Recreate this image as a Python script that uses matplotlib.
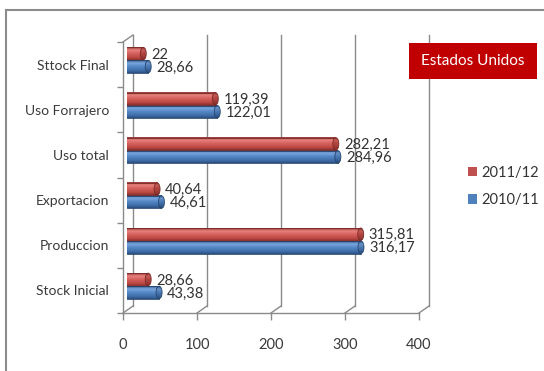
import numpy as np
import matplotlib
matplotlib.use("Agg")
import matplotlib.pyplot as plt
from matplotlib.patches import Ellipse, Rectangle, Patch
from matplotlib.lines import Line2D

plt.rcParams['font.family'] = ['Lato', 'DejaVu Sans']

# Balance de maiz - Estados Unidos
categorias = ['Stock Inicial', 'Produccion', 'Exportacion', 'Uso total', 'Uso Forrajero', 'Sttock Final']
serie_2011 = [28.66, 315.81, 40.64, 282.21, 119.39, 22]
serie_2010 = [43.38, 316.17, 46.61, 284.96, 122.01, 28.66]
etiquetas_2011 = ['28,66', '315,81', '40,64', '282,21', '119,39', '22']
etiquetas_2010 = ['43,38', '316,17', '46,61', '284,96', '122,01', '28,66']
x_ticks = [0, 100, 200, 300, 400]

W, H = 544, 371
L, R, T, B = 123, 419, 42, 313   # plot area in pixels (y from top)

fig = plt.figure(figsize=(W / 100, H / 100), dpi=100)
fig.patch.set_facecolor('white')
ax = fig.add_axes([L / W, 1 - B / H, (R - L) / W, (B - T) / H])
ax.set_xlim(0, 400)
ax.set_ylim(-0.5, 5.5)
ax.set_autoscale_on(False)
ax.patch.set_visible(False)

# pixel -> data unit conversion
ux = 400 / (R - L)
uy = 6 / (B - T)

grid_col = '#8a8a8a'
back_dx, back_dy = 10 * ux, 7 * uy

# back wall gridlines and floor diagonals
for xv in x_ticks:
    ax.plot([xv + back_dx] * 2, [-0.5 + back_dy, 5.5 + back_dy], color=grid_col, lw=1.0, clip_on=False, zorder=1)
    ax.plot([xv, xv + back_dx], [-0.5, -0.5 + back_dy], color=grid_col, lw=1.0, clip_on=False, zorder=1)
ax.plot([0, back_dx], [5.5, 5.5 + back_dy], color=grid_col, lw=1.0, clip_on=False, zorder=1)

for s in ['top', 'right']:
    ax.spines[s].set_visible(False)
for s in ['left', 'bottom']:
    ax.spines[s].set_color(grid_col)
    ax.spines[s].set_linewidth(1.0)
    ax.spines[s].set_zorder(1)

y = np.arange(len(categorias))
ax.set_yticks(y)
ax.set_yticklabels(categorias, fontsize=10, color='#3a3a3a')
ax.set_yticks(np.arange(-0.5, 6, 1), minor=True)
ax.tick_params(axis='y', which='major', length=0, pad=10)
ax.tick_params(axis='y', which='minor', length=4, color=grid_col, width=1.0)
ax.set_xticks(x_ticks)
ax.set_xticklabels([str(v) for v in x_ticks], fontsize=10.5, color='#3a3a3a')
ax.tick_params(axis='x', which='major', length=5, color=grid_col, width=1.0, pad=13)


def gradient(cols, stops, n=60):
    t = np.linspace(0, 1, n)
    rgb = np.array([matplotlib.colors.to_rgb(c) for c in cols])
    out = np.stack([np.interp(t, stops, rgb[:, k]) for k in range(3)], axis=-1)
    return out[:, None, :]


red_body = gradient(['#8f3532', '#e8827e', '#d4605c', '#bd4843', '#8a302d'], [0, 0.22, 0.5, 0.8, 1])
red_cap = gradient(['#7d2d2a', '#c45c58', '#b2433f', '#9a3835', '#782a27'], [0, 0.22, 0.5, 0.8, 1])
blue_body = gradient(['#2f5687', '#7ba6de', '#5587c6', '#3f6ea9', '#2b4f80'], [0, 0.22, 0.5, 0.8, 1])
blue_cap = gradient(['#284b77', '#6a93c8', '#4a78b2', '#365f94', '#254670'], [0, 0.22, 0.5, 0.8, 1])

bar_h = 12.5 * uy
off_x, off_y = 4 * ux, 4.5 * uy
cap_w = 6 * ux


def cylinder(value, yc, body, cap, edge):
    x0, x1 = off_x, value + off_x
    yc = yc + off_y
    y0, y1 = yc - bar_h / 2, yc + bar_h / 2
    ax.imshow(body, extent=(x0, x1, y0, y1), aspect='auto', zorder=3, clip_on=False, interpolation='bilinear')
    ax.plot([x0, x1], [y1, y1], color=edge, lw=0.6, zorder=3.1, clip_on=False)
    ax.plot([x0, x1], [y0, y0], color=edge, lw=0.6, zorder=3.1, clip_on=False)
    ell = Ellipse((x1, yc), cap_w, bar_h, facecolor='none', edgecolor=edge, lw=0.6, zorder=3.3, clip_on=False)
    ax.add_patch(ell)
    im = ax.imshow(cap, extent=(x1 - cap_w / 2, x1 + cap_w / 2, y0, y1), aspect='auto', zorder=3.2, interpolation='bilinear')
    im.set_clip_path(ell)


sep = 6.5 * uy
for i in range(len(categorias)):
    cylinder(serie_2011[i], y[i] + sep, red_body, red_cap, '#7a2a27')
    cylinder(serie_2010[i], y[i] - sep, blue_body, blue_cap, '#244670')
    ax.text(serie_2011[i] + 12 * ux, y[i] + sep + off_y - 1 * uy, etiquetas_2011[i],
            fontsize=10.5, color='#333333', va='center', ha='left', zorder=4)
    ax.text(serie_2010[i] + 12 * ux, y[i] - sep + off_y - 1 * uy, etiquetas_2010[i],
            fontsize=10.5, color='#333333', va='center', ha='left', zorder=4)

# title box
fig.patches.append(Rectangle((409 / W, 1 - 79 / H), 128 / W, 36 / H, transform=fig.transFigure,
                             facecolor='#c00000', edgecolor='none', zorder=5))
fig.text(473 / W, 1 - 61 / H, 'Estados Unidos', color='white', fontsize=11, ha='center', va='center', zorder=6)

# legend
handles = [Patch(facecolor='#c0504d', edgecolor='none'), Patch(facecolor='#4f81bd', edgecolor='none')]
fig.legend(handles, ['2011/12', '2010/11'], loc='upper left', bbox_to_anchor=(468 / W, 1 - 166 / H),
           frameon=False, fontsize=10.5, handlelength=0.6, handleheight=0.6, handletextpad=0.3,
           labelspacing=0.9, borderpad=0, borderaxespad=0, labelcolor='#333333')

# outer frame
fig.add_artist(Line2D([6 / W, 6 / W], [0, 1 - 10 / H], transform=fig.transFigure, color='#8c8c8c', lw=1.5))
fig.add_artist(Line2D([6 / W, 1], [1 - 10 / H, 1 - 10 / H], transform=fig.transFigure, color='#8c8c8c', lw=1.5))

fig.savefig('out.png', dpi=100)
